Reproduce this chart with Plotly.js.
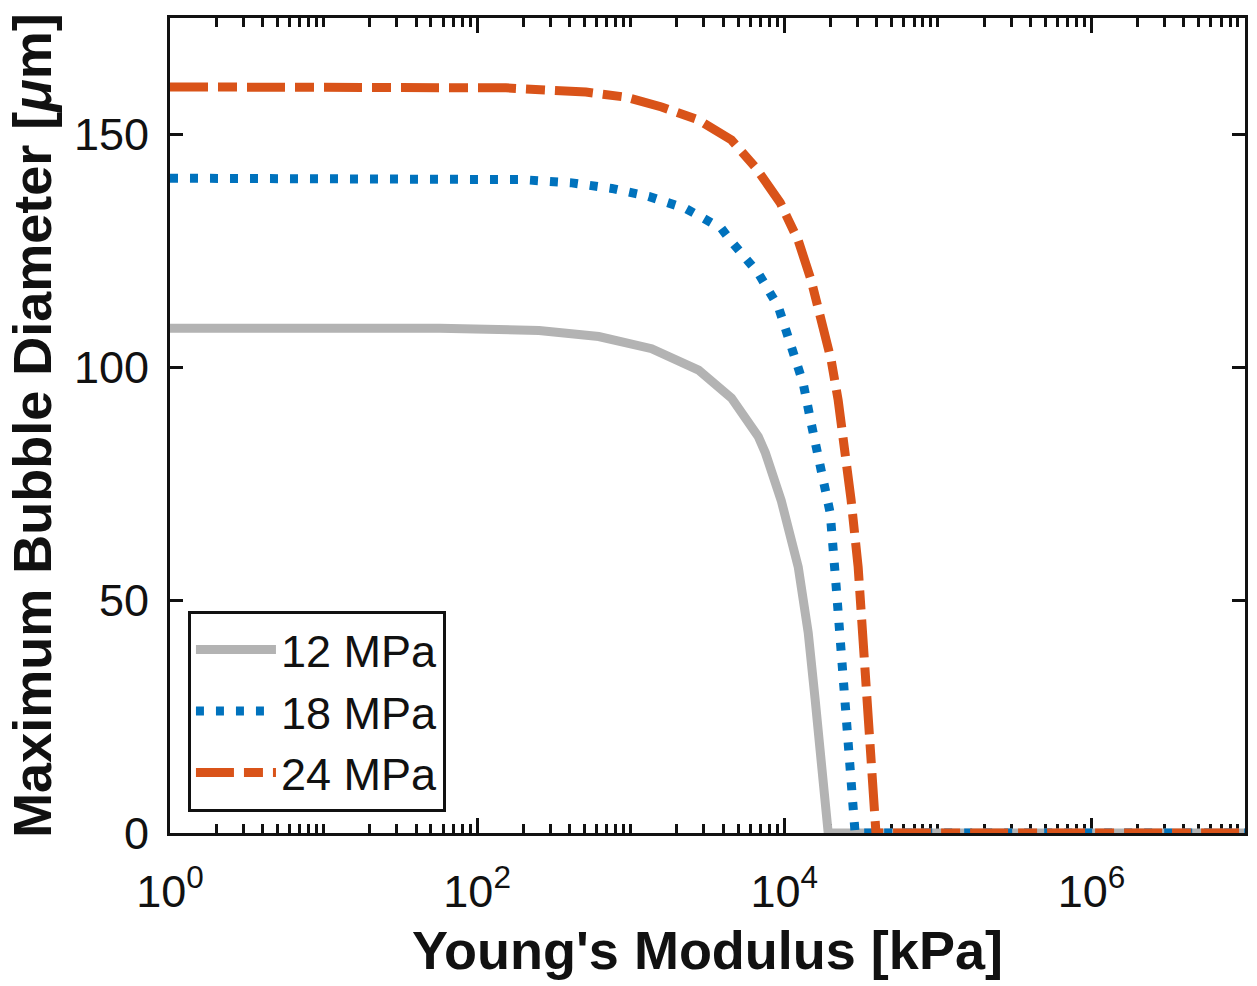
<!DOCTYPE html>
<html>
<head>
<meta charset="utf-8">
<script src="https://cdn.plot.ly/plotly-3.0.1.min.js"></script>
<style>html,body{margin:0;padding:0;background:#fff;}#chart{width:1257px;height:986px;}</style>
</head>
<body>
<div id="chart"></div>
<script>
// Young's modulus [kPa] and maximum bubble diameter [um]
const seriesNames = ['12 MPa', '18 MPa', '24 MPa'];

const x12 = [1, 57, 253, 619, 1368, 2767, 4529, 6776, 7534, 9550, 12330, 14320, 15890, 17380, 19320, 1e7];
const y12 = [108.4, 108.4, 107.9, 106.6, 104.0, 99.4, 93.4, 85.1, 81.6, 71.4, 57.1, 43.0, 28.6, 14.2, 0, 0];

const x18 = [1, 57, 196, 414, 753, 1309, 2275, 2979, 3899, 4529, 6776, 9141, 11090, 13270, 14960, 16630, 19910, 21780, 23440, 25290, 26850, 28050, 28910, 1e7];
const y18 = [140.6, 140.6, 140.3, 139.6, 138.4, 136.7, 134.1, 132.0, 129.8, 127.0, 120.2, 113.0, 104.4, 96.6, 88.0, 81.6, 68.7, 52.8, 39.3, 24.9, 14.2, 4.9, 0, 0];

const x24 = [1, 57, 154, 511, 929, 1589, 2767, 4529, 6577, 9419, 12330, 14960, 17380, 20180, 22440, 24150, 27230, 30270, 32580, 35080, 36730, 38990, 39540, 1e7];
const y24 = [160.2, 160.2, 160.0, 159.1, 158.0, 155.9, 153.1, 148.8, 142.7, 135.3, 127.2, 118.7, 110.9, 101.6, 92.9, 85.2, 71.5, 57.1, 43.0, 28.6, 17.8, 7.1, 0, 0];

const xTickVals = [1, 100, 1e4, 1e6];
const xTickText = ['10<sup>0</sup>', '10<sup>2</sup>', '10<sup>4</sup>', '10<sup>6</sup>'];
const yTickVals = [0, 50, 100, 150];

// minor tick positions: every 1..9 x 10^n that is not a labelled major tick
const minorVals = [];
for (let n = 0; n < 7; n++) {
  for (let k = 1; k <= 9; k++) {
    const v = k * Math.pow(10, n);
    if (!xTickVals.includes(v)) minorVals.push(v);
  }
}

const FONT = 'Liberation Sans, Arial, Helvetica, sans-serif';
const INK = '#111111';

const traces = [
  {x: x12, y: y12, name: seriesNames[0], type: 'scatter', mode: 'lines',
   line: {color: '#b3b3b3', width: 9}},
  {x: x18, y: y18, name: seriesNames[1], type: 'scatter', mode: 'lines',
   line: {color: '#0072BD', width: 9, dash: '8px,12px'}},
  {x: x24, y: y24, name: seriesNames[2], type: 'scatter', mode: 'lines',
   line: {color: '#D95319', width: 9, dash: '38px,10px,19px,10px'}}
];

const layout = {
  width: 1257, height: 986,
  margin: {l: 170, r: 12, t: 18, b: 153},
  paper_bgcolor: '#fff', plot_bgcolor: '#fff',
  font: {family: FONT, color: INK},
  showlegend: true,
  legend: {
    x: 0.0167, y: 0.026, xanchor: 'left', yanchor: 'bottom',
    bgcolor: '#fff', bordercolor: INK, borderwidth: 3,
    font: {family: FONT, size: 45, color: INK},
    itemwidth: 80, tracegroupgap: 0
  },
  xaxis: {
    type: 'log', range: [0, 7], autorange: false,
    tickmode: 'array', tickvals: xTickVals, ticktext: xTickText,
    ticks: 'inside', ticklen: 15, tickwidth: 3, tickcolor: INK,
    showline: true, linewidth: 3, linecolor: INK, mirror: 'ticks',
    showgrid: false, zeroline: false, layer: 'below traces',
    tickfont: {family: FONT, size: 45, color: INK},
    ticklabelstandoff: 17,
    minor: {tickmode: 'array', tickvals: minorVals, ticks: 'inside', ticklen: 9, tickwidth: 3, tickcolor: INK, showgrid: false},
    title: {text: "Young's Modulus [kPa]", font: {family: FONT, size: 54, weight: 700, color: INK}, standoff: 16}
  },
  yaxis: {
    range: [0, 175], autorange: false,
    tickmode: 'array', tickvals: yTickVals,
    ticks: 'inside', ticklen: 13, tickwidth: 3, tickcolor: INK,
    showline: true, linewidth: 3, linecolor: INK, mirror: 'ticks',
    showgrid: false, zeroline: false, layer: 'below traces',
    tickfont: {family: FONT, size: 45, color: INK},
    ticklabelstandoff: 9,
    title: {text: 'Maximum Bubble Diameter [<i>μ</i>m]', font: {family: FONT, size: 54, weight: 700, color: INK}, standoff: 6}
  }
};

Plotly.newPlot('chart', traces, layout, {displayModeBar: false, staticPlot: true});
</script>
</body>
</html>
